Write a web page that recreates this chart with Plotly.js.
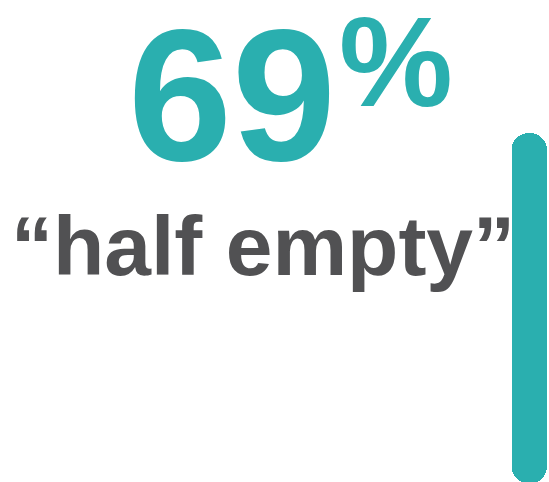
<!DOCTYPE html>
<html>
<head>
<meta charset="utf-8">
<script src="https://cdn.plot.ly/plotly-3.0.1.min.js"></script>
<style>html,body{margin:0;padding:0;background:#fff;}#chart{width:549px;height:482px;}</style>
</head>
<body>
<div id="chart"></div>
<script>
// Data
const barCategory = ['share'];
const barBottom = [-0.3];
const barTop = [72.4];
const bigNumber = '69';
const bigUnit = '%';
const caption = '\u201Chalf empty\u201D';

const teal = '#2AAFAF';
const gray = '#515153';

const traceUp = {
  type: 'bar',
  x: barCategory,
  base: barBottom,
  y: barTop.map((t, i) => t - barBottom[i]),
  marker: {color: teal, cornerradius: 17, line: {width: 0}},
  hoverinfo: 'skip',
  showlegend: false
};
const traceDown = {
  type: 'bar',
  x: barCategory,
  base: barTop,
  y: barBottom.map((b, i) => b - barTop[i]),
  marker: {color: teal, cornerradius: 17, line: {width: 0}},
  hoverinfo: 'skip',
  showlegend: false
};

const font = 'Liberation Sans, Arial, sans-serif';

const layout = {
  width: 549,
  height: 482,
  margin: {l: 0, r: 0, t: 0, b: 0, pad: 0},
  paper_bgcolor: '#ffffff',
  plot_bgcolor: 'rgba(0,0,0,0)',
  barmode: 'overlay',
  bargap: 0,
  xaxis: {
    type: 'category',
    domain: [0.9317, 0.9964],
    range: [-0.5, 0.5],
    visible: false,
    fixedrange: true
  },
  yaxis: {
    range: [0, 100],
    visible: false,
    fixedrange: true
  },
  annotations: [
    {
      text: bigNumber, xref: 'paper', yref: 'paper', x: 0.4217, y: 0.801,
      xanchor: 'center', yanchor: 'middle', showarrow: false,
      font: {family: font, size: 187, color: teal, weight: 'bold'}
    },
    {
      text: bigUnit, xref: 'paper', yref: 'paper', x: 0.7222, y: 0.873,
      xanchor: 'center', yanchor: 'middle', showarrow: false,
      font: {family: font, size: 128, color: teal, weight: 'bold'}
    },
    {
      text: caption, xref: 'paper', yref: 'paper', x: 0.4795, y: 0.4905,
      xanchor: 'center', yanchor: 'middle', showarrow: false,
      font: {family: font, size: 84, color: gray, weight: 'bold'}
    }
  ]
};

Plotly.newPlot('chart', [traceUp, traceDown], layout, {displayModeBar: false, staticPlot: true});
</script>
</body>
</html>
